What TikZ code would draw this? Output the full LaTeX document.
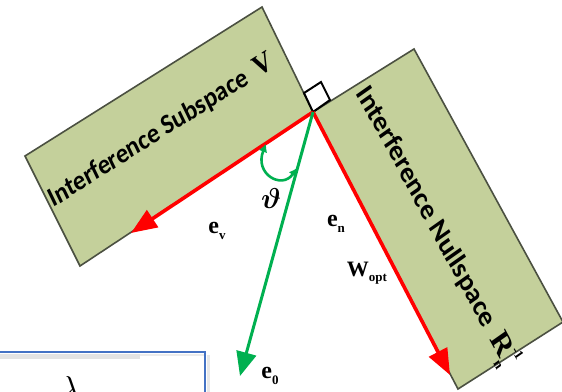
\documentclass[tikz,border=0pt]{standalone}
\usepackage{bm}
\usepackage{fontspec}
\setmainfont{Liberation Serif}
\newfontfamily\carl{Carlito}
\usetikzlibrary{arrows.meta}
\definecolor{boxfill}{RGB}{196,208,155}
\definecolor{boxedge}{RGB}{75,80,65}
\definecolor{vred}{RGB}{255,0,0}
\definecolor{vgreen}{RGB}{0,176,80}
\definecolor{bluebox}{RGB}{68,114,196}
\newcommand\vlab[2]{{\bfseries #1}\raisebox{-0.55ex}{\fontsize{6.5}{6.5}\selectfont\bfseries #2}}
\begin{document}
\begin{tikzpicture}[x=0.5pt,y=-0.5pt,
  space/.style={fill=boxfill, draw=boxedge, line width=0.8pt, line join=miter},
  redvec/.style={draw=vred, line width=1.8pt, -{Triangle[length=13pt,width=10pt]}},
  greenvec/.style={draw=vgreen, line width=1.5pt, -{Triangle[length=12pt,width=10pt]}},
  spacetext/.style={inner sep=0pt, font=\carl\bfseries\fontsize{12.2}{12.2}\selectfont},
  lab/.style={inner sep=0pt, font=\fontsize{12}{12}\selectfont},
]
\useasboundingbox (0,0) rectangle (562,391);
\clip (0,0) rectangle (562,391);
% subspaces
\draw[space] (262,7) -- (313,112) -- (80,266) -- (25,156) -- cycle;
\draw[space] (313,112) -- (414,49) -- (563,322) -- (458,389) -- cycle;
\begin{scope}[shift={(161,131)}]
  \node[spacetext, cm={0.8746,0.5527,-0.4848,0.9971,(0,0)}] (subtext) at (0,0)
    {Interference Subspace\hspace{5pt}{\rmfamily\bfseries\fontsize{13}{13}\selectfont V}};
\end{scope}
\begin{scope}[shift={(436,225)}]
  \node[spacetext, font=\carl\bfseries\fontsize{13}{13}\selectfont, cm={0.5255,-0.9699,0.8508,0.5991,(0,0)}] (nulltext) at (0,0)
    {Interference Nullspace\hspace{5pt}{\rmfamily\bfseries\fontsize{14}{14}\selectfont R}\rlap{\raisebox{1.1ex}{\rmfamily\bfseries\fontsize{6.5}{6.5}\selectfont -1}}\raisebox{-0.6ex}{\rmfamily\bfseries\fontsize{6.5}{6.5}\selectfont n}};
\end{scope}
% right angle mark
\coordinate (O) at (313,112);
\coordinate (sq1) at (304,93);
\coordinate (sq2) at (321,82);
\coordinate (sq3) at (330,100);
\draw[black, line width=1pt, fill=white] (O) -- (sq1) -- (sq2) -- (sq3) -- cycle;
% vectors
\coordinate (ev) at (131,233);
\coordinate (wopt) at (450,375);
\coordinate (e0) at (240,376);
\draw[redvec] (O) -- (ev);
\draw[redvec] (O) -- (wopt);
\draw[greenvec] (O) -- (e0);
% angle arc
\coordinate (a1) at (266,144);
\coordinate (a2) at (297,168);
\draw[vgreen, line width=1.3pt, {Latex[length=4pt,width=4.5pt]}-{Latex[length=4pt,width=4.5pt]}]
  (a1) .. controls (254,174) and (282,190) .. (a2);
% labels
\node[lab] (lev) at (217,231) {\vlab{e}{v}};
\node[lab] (len) at (336,224) {\vlab{e}{n}};
\node[lab, font=\fontsize{11}{11}\selectfont] (lw) at (367,273) {\vlab{W}{opt}};
\node[lab] (le0) at (270,376) {\vlab{e}{0}};
\node[inner sep=0pt, font=\fontsize{15}{15}\selectfont] (thetalab) at (271,198) {$\bm{\vartheta}$};
% blue box (cut off)
\fill[gray!22] (0,354) rectangle (140,359);
\fill[gray!15] (140,354) rectangle (204,356);
\fill[gray!18] (207,355) rectangle (210,395);
\draw[bluebox, line width=1pt] (-10,352) rectangle (205,400);
\node[inner sep=0pt, anchor=north west, font=\fontsize{16}{16}\selectfont] (lam) at (60,376) {$\lambda$};
\end{tikzpicture}
\end{document}
